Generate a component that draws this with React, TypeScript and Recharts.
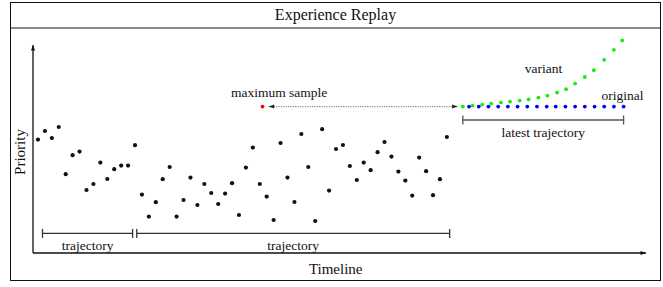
import React from 'react'
import { ScatterChart, Scatter, XAxis, YAxis, ReferenceLine } from 'recharts'

const SERIF = "'Liberation Serif', 'Times New Roman', serif"

// priority of each stored sample, one per time step (steps 0..59)
const samplePriority = [
  0.567, 0.61, 0.575, 0.63, 0.394, 0.489, 0.507, 0.315, 0.345, 0.452,
  0.37, 0.419, 0.437, 0.437, 0.539, 0.292, 0.182, 0.254, 0.369, 0.43,
  0.182, 0.265, 0.377, 0.24, 0.345, 0.3, 0.245, 0.297, 0.349, 0.19,
  0.427, 0.527, 0.345, 0.282, 0.165, 0.55, 0.377, 0.255, 0.595, 0.43,
  0.16, 0.619, 0.312, 0.52, 0.54, 0.435, 0.365, 0.452, 0.414, 0.504,
  0.555, 0.482, 0.407, 0.362, 0.287, 0.477, 0.409, 0.289, 0.369, 0.58,
]

// latest trajectory: steps and priorities (original = max priority, variant grows)
const originalSteps = [
  62.2, 63.6, 65.0, 66.4, 67.8, 69.2, 70.6, 72.0, 73.4, 74.7, 76.1, 77.5, 78.9, 80.3, 81.7, 83.1, 84.5,
]
const originalPriority = [
  0.732, 0.732, 0.732, 0.732, 0.732, 0.732, 0.732, 0.732, 0.732, 0.732, 0.732, 0.732, 0.732, 0.732, 0.732, 0.732, 0.732,
]
const variantSteps = [
  61.3, 62.7, 64.1, 65.4, 66.8, 68.1, 69.5, 70.8, 72.2, 73.5, 74.9, 76.2, 77.5, 78.9, 80.2, 81.7, 83.1, 84.3,
]
const variantPriority = [
  0.732, 0.737, 0.742, 0.747, 0.752, 0.757, 0.762, 0.768, 0.777, 0.787, 0.802, 0.819, 0.847, 0.88, 0.914, 0.966, 1.016, 1.063,
]

const maxSample = { t: 32.4, p: 0.732 }

// trajectory spans on the timeline (in steps)
const trajectoryLabels = ['trajectory', 'trajectory', 'latest trajectory']
const trajectoryStart = [0.65, 14.25, 61.3]
const trajectoryEnd = [13.65, 59.4, 84.5]

// axis ranges (steps / priority)
const T_MIN = -0.72
const T_MAX = 87.73
const P_TOP = 1.115
const P_ARROW = 1.04

const samples = samplePriority.map((p, i) => ({ t: i, p }))
const original = originalSteps.map((t, i) => ({ t, p: originalPriority[i] }))
const variant = variantSteps.map((t, i) => ({ t, p: variantPriority[i] }))

const textStyle = { fontFamily: SERIF, fontSize: 13.5 }

const dot = (color: string, r: number) => (props: any) =>
  props.cx == null ? <g /> : <circle cx={props.cx} cy={props.cy} r={r} fill={color} />

const head = (x: number, y: number, ang: number, len: number, hw: number, color: string) => {
  const c = Math.cos(ang)
  const s = Math.sin(ang)
  const bx = x - c * len
  const by = y - s * len
  const pts = `${x},${y} ${bx - s * hw},${by + c * hw} ${bx + s * hw},${by - c * hw}`
  return <polygon points={pts} fill={color} />
}

const arrowShape =
  (opts: { both?: boolean; dashed?: boolean; color: string; head: string; width: number }) =>
  (props: any) => {
    const { x1, y1, x2, y2 } = props
    const ang = Math.atan2(y2 - y1, x2 - x1)
    return (
      <g>
        <line
          x1={x1}
          y1={y1}
          x2={x2}
          y2={y2}
          stroke={opts.color}
          strokeWidth={opts.width}
          strokeDasharray={opts.dashed ? '1.2 1.2' : undefined}
        />
        {head(x2, y2, ang, 5.5, 2, opts.head)}
        {opts.both ? head(x1, y1, ang + Math.PI, 5.5, 2, opts.head) : null}
      </g>
    )
  }

const bracketShape = (label: string, color: string) => (props: any) => {
  const { x1, y1, x2 } = props
  return (
    <g>
      <line x1={x1} y1={y1} x2={x2} y2={y1} stroke={color} strokeWidth={1.3} />
      <line x1={x1} y1={y1 - 4.5} x2={x1} y2={y1 + 4.5} stroke={color} strokeWidth={1.3} />
      <line x1={x2} y1={y1 - 4.5} x2={x2} y2={y1 + 4.5} stroke={color} strokeWidth={1.3} />
      <text
        x={(x1 + x2) / 2}
        y={y1 + 12}
        textAnchor="middle"
        dominantBaseline="central"
        style={textStyle}
        fill="#111"
      >
        {label}
      </text>
    </g>
  )
}

const annotations = [
  { t: 34.8, p: 0.805, text: 'maximum sample' },
  { t: 72.95, p: 0.923, text: 'variant' },
  { t: 84.35, p: 0.79, text: 'original' },
]

const labelShape = (props: any) =>
  props.cx == null ? (
    <g />
  ) : (
    <text
      x={props.cx}
      y={props.cy}
      textAnchor="middle"
      dominantBaseline="central"
      style={textStyle}
      fill="#111"
    >
      {props.payload.text}
    </text>
  )

export default function App() {
  return (
    <div style={{ position: 'absolute', left: 0, top: 0, width: 663, height: 287, background: '#fff' }}>
      <div
        style={{
          position: 'absolute',
          left: 10,
          top: 2,
          width: 651,
          height: 279,
          border: '1.5px solid #111',
          boxSizing: 'border-box',
        }}
      />
      <div
        style={{
          position: 'absolute',
          left: 11,
          top: 3,
          width: 649,
          height: 24,
          borderBottom: '2px solid #8a8a8a',
          textAlign: 'center',
          lineHeight: '24px',
          fontFamily: SERIF,
          fontSize: 16,
          color: '#111',
        }}
      >
        Experience Replay
      </div>
      <div
        style={{
          position: 'absolute',
          left: 335.7,
          top: 269,
          transform: 'translate(-50%, -50%)',
          fontFamily: SERIF,
          fontSize: 15,
          color: '#111',
          whiteSpace: 'nowrap',
        }}
      >
        Timeline
      </div>
      <div
        style={{
          position: 'absolute',
          left: 20,
          top: 152,
          transform: 'translate(-50%, -50%) rotate(-90deg)',
          fontFamily: SERIF,
          fontSize: 15,
          color: '#111',
          whiteSpace: 'nowrap',
        }}
      >
        Priority
      </div>
      <div style={{ position: 'absolute', left: 0, top: 0 }}>
        <ScatterChart width={663} height={287} margin={{ top: 30, right: 17, bottom: 34, left: 33 }}>
          <XAxis type="number" dataKey="t" domain={[T_MIN, T_MAX]} allowDataOverflow hide />
          <YAxis type="number" dataKey="p" domain={[0, P_TOP]} allowDataOverflow hide />
          <ReferenceLine
            segment={[
              { x: T_MIN, y: 0 },
              { x: T_MAX, y: 0 },
            ]}
            ifOverflow="visible"
            shape={arrowShape({ color: '#111', head: '#111', width: 1.3 })}
          />
          <ReferenceLine
            segment={[
              { x: T_MIN, y: 0 },
              { x: T_MIN, y: P_ARROW },
            ]}
            ifOverflow="visible"
            shape={arrowShape({ color: '#111', head: '#111', width: 1.3 })}
          />
          {trajectoryLabels.map((label, i) => (
            <ReferenceLine
              key={i}
              segment={[
                { x: trajectoryStart[i], y: i === 2 ? 0.665 : 0.098 },
                { x: trajectoryEnd[i], y: i === 2 ? 0.665 : 0.098 },
              ]}
              ifOverflow="visible"
              shape={bracketShape(label, i === 2 ? '#555' : '#333')}
            />
          ))}
          <ReferenceLine
            segment={[
              { x: 33.3, y: maxSample.p },
              { x: 60.55, y: maxSample.p },
            ]}
            ifOverflow="visible"
            shape={arrowShape({ both: true, dashed: true, color: '#8a8a8a', head: '#222', width: 1.2 })}
          />
          <Scatter data={samples} fill="#111" shape={dot('#111', 2.1)} isAnimationActive={false} />
          <Scatter data={original} fill="#0000ff" shape={dot('#0000ff', 1.9)} isAnimationActive={false} />
          <Scatter data={variant} fill="#00ff00" shape={dot('#11ee11', 1.9)} isAnimationActive={false} />
          <Scatter data={[maxSample]} fill="#ff0000" shape={dot('#ff0000', 1.9)} isAnimationActive={false} />
          <Scatter data={annotations} shape={labelShape} isAnimationActive={false} />
        </ScatterChart>
      </div>
    </div>
  )
}
